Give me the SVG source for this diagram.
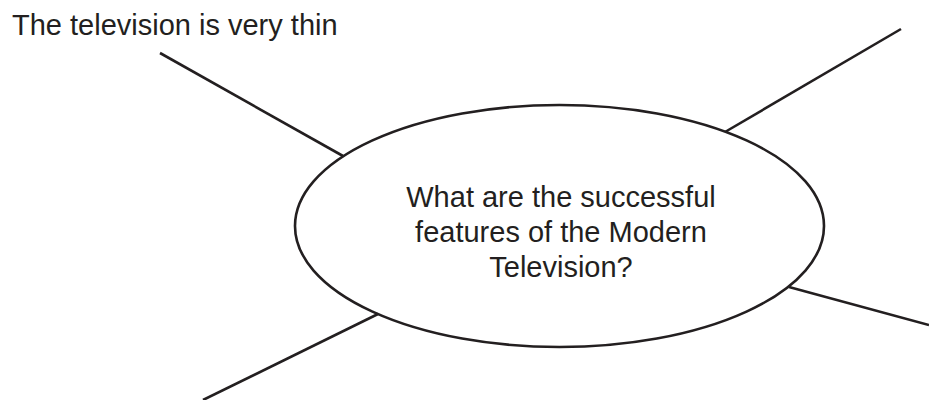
<svg xmlns="http://www.w3.org/2000/svg" width="929" height="400" viewBox="0 0 929 400">
<style>
.ln{stroke:#231f20;stroke-width:2.6;fill:none;stroke-linecap:butt}
.t{font-family:"Liberation Sans",Arial,sans-serif;font-size:29px;fill:#231f20}
</style>
<rect width="929" height="400" fill="#ffffff"/>
<g id="connectors">
<line class="ln" x1="160" y1="53" x2="343" y2="156"/>
<line class="ln" x1="725" y1="132" x2="901" y2="29"/>
<line class="ln" x1="789" y1="287" x2="929" y2="325"/>
<line class="ln" x1="378" y1="314" x2="203" y2="400"/>
</g>
<g id="center">
<ellipse class="ln" cx="559.5" cy="226" rx="264.5" ry="121"/>
<text class="t" text-anchor="middle"><tspan x="561" y="207">What are the successful</tspan><tspan x="561" y="242">features of the Modern</tspan><tspan x="561" y="277">Television?</tspan></text>
</g>
<g id="label-top-left">
<text class="t" x="12" y="35">The television is very thin</text>
</g>
</svg>
